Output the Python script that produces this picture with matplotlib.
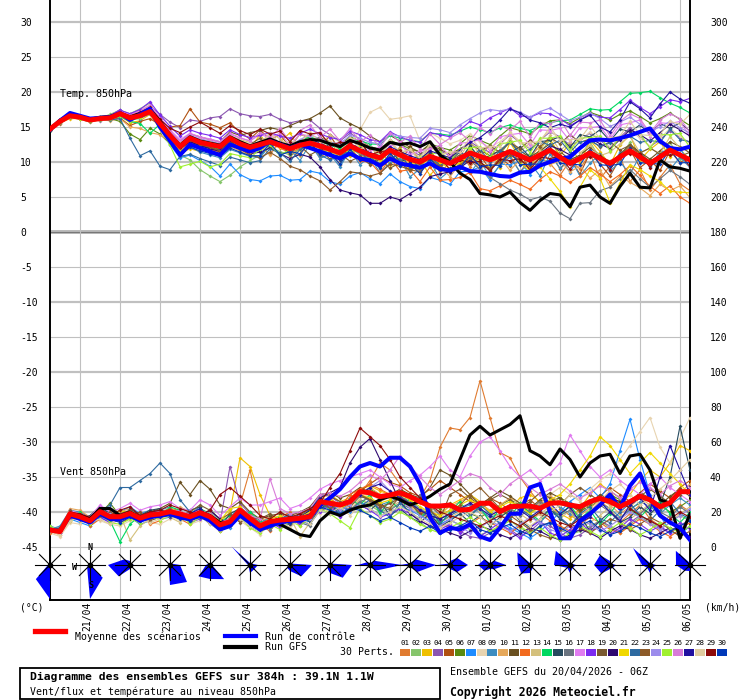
import numpy as np
import matplotlib
matplotlib.use("Agg")
import matplotlib.pyplot as plt
from matplotlib.lines import Line2D
from matplotlib.patches import Polygon, Rectangle

plt.rcParams["font.family"] = ["DejaVu Sans Mono"]

# --- time axis: 65 steps of 6h from 20/04/2026 06Z ---
hours = np.arange(65) * 6
date_labels = ["21/04", "22/04", "23/04", "24/04", "25/04", "26/04", "27/04", "28/04",
               "29/04", "30/04", "01/05", "02/05", "03/05", "04/05", "05/05", "06/05"]

# --- temperature 850hPa (degC) ---
temp_mean = [14.7,15.8,16.6,16.4,16.0,16.2,16.3,16.9,16.3,16.6,17.2, 15.5,13.8,12.2,13.4,12.8,12.5,12.2,13.4,12.6,12.1,
             12.5,12.9,12.4,11.9,12.4,12.7,12.3,11.8,11.3,12.3, 11.6,11.0,10.6,11.7,11.0,10.4,10.0,10.8,10.3,9.8,
             10.5,11.3,10.8,10.3,10.9,11.5,10.9,10.3,11.0,11.7, 10.7,9.8,10.5,11.3,10.5,9.8,10.7,11.6,10.7,9.8, 10.7,11.7,11.0,10.3]
temp_ctrl = [14.6,15.9,17.0,16.6,16.2,16.3,16.4,17.0,16.0,16.8,17.6, 15.0,13.0,11.0,12.5,12.0,11.5,11.0,12.5,12.0,11.5,
             12.0,13.0,12.5,12.0,12.5,12.0,11.5,11.0,10.5,11.2, 10.5,10.2,9.5,10.5,9.8,9.5,9.2,9.8,9.0,8.8,
             9.3,8.7,8.6,8.3,8.0,7.9,8.5,8.6,9.5,10.0, 10.5,10.7,12.0,13.1,13.2,13.1,13.4,13.8,14.3,14.8, 13.0,12.0,11.8,12.2]
temp_gfs = [14.7,16.0,16.8,16.5,16.1,16.4,16.5,17.0,16.4,16.9,17.5, 15.8,13.9,12.4,13.6,13.0,12.7,12.4,13.6,12.9,12.3,
            12.8,13.3,12.7,12.3,12.9,13.2,13.1,12.6,12.2,13.1, 12.6,12.0,11.7,12.8,12.5,12.7,12.2,12.9,11.0,10.0,
            8.4,7.5,5.5,5.3,5.0,5.7,4.2,3.1,4.5,5.5, 5.3,3.6,6.4,6.7,5.0,4.1,6.5,8.4,6.4,6.3, 10.3,9.3,9.1,8.7]

t01 = [14.6,15.7,16.5,16.5,16.1,16.0,16.4,17.1,16.6,17.2,17.9, 16.2,14.0,12.0,13.1,12.0,11.6,11.2,12.8,11.5,10.9, 12.4,11.1,13.0,10.8,11.9,12.9,10.7,11.5,9.6,12.2, 10.3,11.8,9.0,10.6,12.1,8.7,9.9,11.4,8.4,10.0, 11.5,9.3,10.8,12.4,9.6,11.0,8.5,10.7,12.3,9.8, 8.1,10.2,9.0,11.3,7.6,9.4,10.8,7.2,8.9,6.0, 7.8,9.6,6.9,5.9]
t02 = [14.8,16.0,16.9,16.3,15.8,16.3,16.8,17.4,16.9,17.6,18.4, 15.8,13.1,11.0,10.3,8.9,8.0,7.2,8.1,9.3,10.2, 11.0,12.1,11.5,11.0,11.9,12.5,12.0,11.1,10.8,12.1, 11.0,10.9,9.7,12.1,10.2,10.6,9.1,11.4,9.6,9.9, 10.1,12.3,10.6,10.7,11.0,13.1,10.9,11.1,11.2,13.2, 10.7,10.4,10.8,12.9,10.5,10.2,10.7,12.8,10.0,9.7, 10.3,12.8,10.5,10.3]
t03 = [14.5,15.6,16.2,16.2,15.9,16.4,16.1,16.6,15.6,15.9,16.8, 14.7,12.6,11.2,11.9,11.5,11.8,11.4,12.6,12.3,11.9, 13.9,12.1,12.8,14.2,11.7,12.5,13.6,11.2,12.9,10.8, 12.5,10.4,11.9,9.6,11.0,8.8,10.3,8.1,9.7,11.2, 9.4,12.0,10.1,11.6,9.2,12.8,10.5,9.1,12.0,13.3, 10.9,12.7,9.8,13.1,11.5,9.6,12.4,13.9,10.3,11.8, 12.9,10.7,11.9,10.2]
t04 = [14.7,15.9,16.7,16.6,16.2,15.9,16.6,17.5,16.2,17.0,18.0, 16.8,15.7,14.9,16.0,15.8,16.3,16.5,17.6,16.9,16.6, 16.5,16.8,16.1,15.6,15.9,16.0,14.8,13.9,13.0,14.1, 13.3,12.2,11.8,13.0,12.4,11.5,11.0,12.1,11.6,10.9, 11.8,12.9,12.0,11.4,12.6,13.9,12.8,11.9,13.1,14.3, 13.6,12.4,13.0,14.2,13.1,12.0,13.5,14.9,13.6,12.2, 13.2,14.4,13.5,12.8]
t05 = [14.6,15.5,16.4,16.1,15.7,16.1,16.0,16.3,15.2,15.8,16.2, 15.3,15.0,15.2,17.6,15.7,15.4,14.9,15.6,14.2,13.3, 14.6,13.2,13.9,12.1,14.0,13.4,12.0,13.8,11.6,12.7, 13.1,10.7,12.0,11.2,9.8,12.3,10.1,11.8,9.4,10.6, 11.7,9.8,11.0,8.9,10.6,9.5,11.4,8.7,10.1,11.5, 9.0,10.4,8.3,11.3,9.7,8.0,10.5,11.8,9.2,10.3, 8.8,11.6,9.9,10.8]
t06 = [14.7,15.7,16.5,16.3,15.9,16.2,16.2,15.8,14.0,13.2,14.8, 14.0,12.6,11.9,12.8,12.4,12.0,11.6,12.9,12.5,11.8, 12.2,13.0,12.6,12.1,12.8,13.2,13.5,12.9,12.4,13.6, 13.0,12.2,11.8,13.1,12.5,11.9,11.4,12.6,12.1,11.7, 12.6,13.8,13.1,12.5,13.7,14.9,14.5,14.0,15.1,15.9, 16.0,15.5,16.3,17.1,16.6,16.0,16.8,17.3,16.5,15.6, 16.2,17.0,16.1,15.2]
t07 = [14.6,15.8,16.6,16.4,16.0,16.2,16.3,16.8,16.0,16.4,17.0, 14.8,12.5,10.6,11.0,10.2,9.4,8.0,9.7,8.2,7.5, 7.3,8.0,8.1,7.4,7.5,8.7,8.4,7.2,6.8,8.0, 8.5,7.6,6.9,8.3,7.2,6.5,6.2,7.8,7.4,6.8, 8.6,8.7,9.3,7.4,9.7,9.6,10.1,8.2,10.2,10.2, 10.6,8.5,10.9,10.9,11.0,8.9,11.4,11.4,11.7,9.3, 11.5,11.6,11.9,9.8]
t08 = [14.8,15.9,16.7,16.5,16.1,16.5,16.4,17.2,16.8,17.4,18.2, 16.0,14.1,12.6,13.3,12.8,12.5,12.2,13.5,12.6,12.3, 13.1,13.6,12.7,12.3,13.1,13.8,12.9,12.2,11.4,12.5, 14.6,17.1,17.8,16.1,16.3,16.6,13.0,14.2,13.4,12.6, 13.1,14.0,12.8,12.1,12.9,14.1,13.0,12.0,13.2,14.5, 13.2,12.1,13.0,14.3,13.2,12.2,13.3,14.6,13.4,12.3, 13.4,14.8,13.7,12.6]
t09 = [14.5,15.6,16.4,16.3,15.9,16.1,16.2,16.7,16.1,16.2,16.9, 15.1,13.2,11.4,12.2,11.4,11.0,10.6,11.8,11.3,10.8, 10.6,12.4,10.9,11.8,10.2,12.6,10.5,11.1,9.3,11.7, 9.6,10.8,8.4,9.9,10.5,7.9,9.0,10.1,7.6,8.8, 9.7,8.4,10.3,7.8,9.5,10.7,8.6,9.9,8.0,11.1, 9.1,10.6,8.0,9.8,11.2,8.7,10.0,8.3,10.9,9.4, 10.4,8.9,10.7,9.2]
t10 = [14.6,15.6,16.3,16.2,15.8,16.0,15.9,16.2,15.0,14.8,14.2, 13.9,12.9,12.0,12.6,12.1,11.5,11.2,12.2,11.6,11.0, 12.2,11.0,12.9,11.6,10.9,13.1,11.3,12.4,10.2,11.9, 10.4,11.3,9.2,10.8,9.6,10.1,8.3,10.5,9.4,7.9, 9.8,10.9,8.9,9.9,10.6,8.8,10.3,9.2,10.9,9.6, 10.2,8.6,9.4,7.7,8.9,6.5,8.0,7.1,6.3,5.2, 6.8,5.9,6.6,4.9]
t11 = [14.7,15.8,16.5,16.4,16.0,16.3,16.5,17.0,16.5,16.8,17.5, 15.9,14.3,13.0,14.0,13.6,13.2,12.9,14.3,13.8,14.2, 14.5,14.9,14.6,15.2,15.8,16.2,17.0,18.0,16.3,15.5, 14.8,13.7,12.9,13.8,13.0,12.1,11.4,12.5,11.8,11.1, 11.9,12.6,11.7,10.9,11.7,12.8,11.6,10.7,11.6,12.6, 11.5,10.3,11.0,12.1,11.0,9.9,11.1,12.5,11.4,10.4, 11.6,12.9,12.2,11.3]
t12 = [14.6,15.9,16.8,16.5,16.1,16.2,16.4,17.0,16.4,16.9,17.6, 15.6,13.5,11.8,12.7,12.2,11.7,11.5,12.7,12.0,11.4, 11.9,12.6,12.0,11.3,12.0,12.6,11.9,11.2,10.4,11.5, 10.1,10.0,8.4,10.6,8.7,8.9,7.2,9.3,7.4,7.5, 7.8,8.5,6.2,5.9,6.6,7.4,6.8,6.1,7.5,8.6, 8.0,7.1,8.0,9.2,8.3,7.2,8.2,9.5,8.1,6.5, 5.5,6.6,5.0,4.1]
t13 = [14.8,15.9,16.6,16.4,16.1,16.3,16.5,17.1,16.7,17.0,17.7, 15.7,13.9,12.5,13.5,13.0,12.9,12.6,13.8,13.2,12.8, 12.6,14.2,13.3,12.0,14.1,13.2,12.5,13.9,12.8,11.6, 13.0,12.2,10.6,12.9,11.2,11.8,10.1,12.4,10.9,11.5, 10.8,12.9,11.1,12.3,11.2,13.4,11.5,12.7,11.6,13.8, 11.6,12.9,11.3,12.4,10.9,11.4,12.6,13.7,11.3,12.0, 11.2,13.6,12.0,11.8]
t14 = [14.7,15.8,16.6,16.3,15.9,16.1,16.2,16.5,15.8,15.5,14.1, 15.4,13.4,12.3,13.0,12.5,12.2,11.8,13.1,12.4,12.0, 12.6,13.3,12.7,12.3,13.0,13.6,13.0,12.4,11.9,13.0, 13.0,12.6,12.5,13.8,13.4,13.1,12.9,14.1,14.0,13.8, 14.4,15.0,14.6,14.2,14.9,15.3,14.8,14.5,15.1,15.6, 15.9,16.0,16.8,17.6,17.4,17.5,18.6,19.8,19.9,20.1, 19.2,18.4,17.8,17.0]
t15 = [14.6,15.7,16.6,16.5,16.0,16.1,16.3,16.9,16.2,16.5,17.1, 15.3,13.4,11.9,12.9,12.4,12.0,11.7,12.9,12.1,11.6, 11.6,13.3,12.5,11.2,12.7,12.2,11.5,12.6,10.3,12.3, 11.7,9.8,10.6,11.8,10.0,10.6,9.0,11.3,9.8,10.4, 10.2,12.3,10.4,10.9,11.6,11.3,12.2,10.7,12.9,13.1, 13.6,12.1,13.9,13.6,14.6,13.0,14.7,14.3,15.3,14.0, 15.5,14.8,15.6,14.4]
t16 = [14.7,15.8,16.7,16.4,16.0,16.2,16.3,16.8,16.2,16.6,17.3, 15.6,13.6,12.2,13.1,12.6,12.3,12.0,13.2,12.7,12.1, 12.5,13.2,12.5,11.9,12.6,13.1,12.4,11.8,11.0,12.0, 11.2,10.4,9.8,10.9,10.1,9.4,8.8,9.9,9.1,8.5, 9.5,10.3,8.9,7.8,6.9,6.0,5.4,4.6,5.0,4.4, 2.7,1.9,4.1,4.2,5.9,6.4,7.6,8.9,7.6,6.4, 7.6,8.8,7.9,6.8]
t17 = [14.8,16.0,16.8,16.6,16.2,16.4,16.6,17.3,16.8,17.3,18.1, 16.4,14.6,13.2,14.1,13.6,13.3,12.9,14.1,13.5,13.0, 13.9,13.5,14.1,12.4,14.0,13.7,14.3,12.2,12.8,13.0, 13.3,11.5,12.2,12.3,12.6,11.0,11.6,11.9,12.4,10.8, 12.7,12.8,13.2,11.6,13.6,13.9,14.1,12.4,14.6,14.5, 14.8,13.0,14.9,14.9,15.1,13.2,15.3,15.6,16.0,13.6, 15.6,15.5,15.8,13.6]
t18 = [14.7,15.9,16.8,16.6,16.2,16.3,16.6,17.4,16.9,17.5,18.6, 16.7,15.1,13.7,14.6,14.1,13.8,13.4,14.6,13.9,13.5, 13.8,14.2,13.7,13.4,14.1,14.7,14.0,13.5,13.2,14.4, 13.9,13.2,12.9,14.3,13.6,13.1,12.8,14.2,13.9,13.6, 14.6,15.8,15.3,16.3,17.0,17.7,16.6,16.4,17.0,16.9, 16.2,15.2,16.0,16.9,16.4,16.3,17.5,18.8,17.8,16.9, 17.9,18.9,18.6,19.1]
t19 = [14.6,15.7,16.5,16.3,15.9,16.1,16.2,16.7,16.1,16.4,17.0, 15.2,13.7,12.6,13.6,13.2,12.8,12.3,13.5,12.9,12.5, 13.4,12.1,12.9,11.7,12.3,11.0,11.8,10.4,11.2,10.1, 10.8,9.6,10.4,9.1,9.9,8.8,9.7,10.5,9.3,10.2, 11.0,10.1,11.6,12.3,11.4,12.8,11.9,13.1,12.2,13.5, 12.6,13.9,12.8,13.3,12.1,12.9,11.7,12.4,11.3,12.0, 11.1,11.9,10.8,11.4]
t20 = [14.7,15.8,16.6,16.5,16.1,16.2,16.3,16.8,16.3,16.7,17.4, 15.5,13.5,12.0,12.9,12.3,11.9,11.5,12.6,11.8,11.2, 11.4,12.0,11.2,10.5,11.1,10.7,9.3,7.5,6.0,5.6, 5.3,4.1,4.1,5.0,4.6,5.5,6.4,7.9,8.3,8.6, 9.2,10.2,9.6,9.0,10.1,11.2,10.6,10.0,11.2,12.3, 11.8,11.0,12.1,13.4,12.6,11.9,13.2,14.6,13.9,13.0, 14.2,15.4,14.6,13.7]
t21 = [14.6,15.8,16.6,16.3,15.9,16.2,16.3,16.9,16.4,16.8,17.5, 15.4,13.2,11.6,12.4,11.9,11.4,11.0,12.4,11.9,11.5, 12.1,12.9,12.2,11.6,12.4,13.0,12.3,11.5,10.9,12.0, 11.5,10.7,10.3,11.6,10.8,10.0,9.4,10.6,9.9,9.1, 9.9,10.8,9.9,9.2,10.0,11.1,9.9,8.7,9.3,7.6, 5.8,3.6,6.4,8.9,7.7,4.2,7.0,9.6,8.9,8.0, 7.2,5.8,5.7,5.6]
t22 = [14.7,15.7,16.4,16.3,15.9,16.1,16.0,16.2,13.4,10.9,11.6, 9.4,8.9,10.8,11.1,10.5,10.0,9.5,10.7,10.3,9.9, 10.2,11.9,11.3,10.1,11.8,12.5,11.0,10.3,10.9,11.6, 10.4,10.9,9.3,10.5,11.1,9.2,9.9,10.8,9.5,10.3, 11.4,10.6,11.8,10.0,11.6,12.9,11.2,11.8,12.9,12.4, 13.1,11.4,12.9,13.0,12.3,12.7,13.5,13.7,12.8,13.1, 12.8,14.7,13.2,12.9]
t23 = [14.6,15.8,16.7,16.4,16.0,16.2,16.4,17.0,16.4,16.8,17.4, 15.5,13.6,12.3,13.1,12.5,12.1,11.6,12.7,11.9,11.0, 10.6,11.4,10.5,9.4,8.9,8.0,7.3,6.0,7.2,8.6, 8.4,8.0,8.4,9.7,9.4,8.9,8.6,9.9,9.4,8.8, 9.6,10.6,9.9,9.1,10.0,11.0,10.2,9.4,10.5,11.6, 10.8,9.7,10.6,11.7,10.8,9.7,10.9,12.2,11.2,10.1, 11.0,12.1,11.2,10.2]
t24 = [14.8,15.9,16.7,16.5,16.2,16.4,16.5,17.2,16.6,17.1,17.8, 16.1,14.3,12.9,13.8,13.3,13.0,12.6,13.7,13.0,12.5, 12.9,13.4,12.8,12.4,13.2,13.9,13.3,12.8,12.6,13.8, 13.4,12.8,12.6,14.0,13.7,13.5,13.4,14.8,14.6,14.2, 15.3,16.2,17.0,17.5,17.3,17.6,17.1,16.4,17.2,17.7, 16.8,15.9,16.4,17.0,16.2,15.1,15.7,16.4,15.4,14.4, 15.0,15.8,14.9,14.1]
t25 = [14.6,15.7,16.4,16.2,15.8,16.0,16.1,16.6,15.9,16.3,17.0, 14.9,12.4,9.3,9.7,10.1,9.3,9.7,11.2,10.9,10.6, 11.8,12.4,11.0,11.8,12.3,12.1,12.5,11.0,11.5,11.5, 12.2,10.6,11.3,11.5,11.8,10.3,10.8,11.0,11.5,10.1, 11.9,12.0,12.2,10.7,12.6,12.8,13.1,11.3,13.4,13.4, 13.7,11.7,13.4,13.5,13.7,11.6,13.6,13.9,14.0,12.0, 13.9,13.9,14.1,12.1]
t26 = [14.7,15.9,16.8,16.5,16.1,16.3,16.5,17.2,16.7,17.2,18.0, 16.2,14.4,13.0,14.0,13.5,13.2,12.8,14.0,13.4,13.0, 14.2,13.6,14.8,12.9,14.5,15.3,13.5,14.7,13.0,14.8, 12.9,13.8,12.0,14.2,12.8,13.7,11.8,14.0,12.5,13.4, 14.2,13.0,14.9,14.0,15.2,14.6,15.8,13.6,15.6,15.5, 16.1,13.8,15.7,15.6,16.0,13.7,15.8,16.9,16.2,14.1, 16.0,16.9,16.2,14.2]
t27 = [14.6,15.8,16.6,16.4,16.0,16.2,16.3,16.9,16.3,16.7,17.3, 15.5,13.7,12.4,13.3,12.8,12.4,12.0,13.2,12.5,12.0, 12.5,13.1,12.4,11.9,12.7,13.3,12.7,12.0,11.5,12.6, 12.0,11.3,10.9,12.2,11.5,10.9,10.4,11.6,11.1,10.6, 11.7,12.8,13.5,14.6,16.0,17.6,17.0,16.0,15.6,14.9, 15.4,15.0,16.0,16.7,15.0,14.3,16.0,18.6,17.6,16.3, 18.3,20.0,19.0,18.4]
t28 = [14.7,15.9,16.6,16.5,16.1,16.3,16.4,17.0,16.5,16.9,17.6, 15.8,13.9,12.7,13.6,13.1,12.8,12.5,13.7,13.1,12.6, 12.5,14.1,12.6,13.0,12.7,14.3,12.8,13.0,11.4,13.5, 11.9,12.2,11.0,13.1,11.4,11.8,10.6,12.6,11.0,11.5, 11.4,13.5,12.0,12.2,12.2,14.3,12.7,12.8,12.9,15.0, 13.1,13.2,13.3,15.2,13.3,13.4,13.7,15.8,13.9,13.8, 13.9,15.8,15.4,16.8]
t29 = [14.8,15.9,16.7,16.4,16.1,16.3,16.5,17.1,16.6,17.1,17.8, 16.1,14.8,14.2,15.0,15.7,14.9,14.1,15.2,14.5,13.9, 14.7,14.0,14.4,12.9,14.5,14.0,14.2,12.4,12.8,12.7, 13.0,11.0,11.5,11.6,11.7,10.0,10.4,10.4,10.7,8.9, 10.3,9.9,10.1,8.7,10.4,10.2,10.5,8.9,10.7,10.5, 10.8,9.0,10.7,10.7,10.8,8.9,11.0,11.2,11.2,9.2, 11.0,11.0,11.2,9.3]
t30 = [14.6,15.9,16.9,16.6,16.2,16.2,16.4,17.0,16.3,16.8,17.5, 15.3,13.1,11.2,12.1,11.6,11.2,10.8,12.0,11.4,10.9, 10.9,12.7,11.0,11.5,11.2,12.8,11.1,11.3,9.7,11.8, 10.3,10.5,9.1,11.3,9.5,9.8,8.3,10.5,8.8,9.1, 9.1,11.1,9.3,9.6,9.5,11.5,9.6,9.7,9.7,11.8, 9.8,9.7,9.6,11.7,9.6,9.5,9.7,12.0,9.9,9.8, 9.7,11.8,9.9,9.9]

# --- wind 850hPa (km/h) ---
wind_mean = [9.7,8.8,18.9,17.3,15.0,20.2,17.3,17.3,19.2,16.5,18.3, 18.9,20.2,18.9,17.3,19.6,17.3,12.6,14.5,21.1,16.4,
             12.0,14.5,15.4,15.8,16.5,17.3,25.9,25.0,24.0,25.9, 31.6,31.0,28.8,29.7,31.0,28.8,25.9,23.4,23.4,24.0,
             21.1,21.5,25.0,25.0,20.2,23.0,23.4,23.4,22.1,25.0, 25.3,24.0,23.0,25.9,27.8,25.9,23.0,25.9,29.1,26.9, 23.0,25.3,31.6,31.6]
wind_ctrl = [10,9,18,16,14,19,16,16,18,15,17, 18,19,17,16,18,15,10,12,18,14, 10,12,14,15,15,17,24,28,33,40,
             46,48,46,51,51,46,36,17,8,11, 10,13,6,4,11,19,19,34,36,20, 5,5,15,19,24,30,22,35,42,28, 18,14,11,4]
wind_gfs = [10,9,19,18,16,22,22,18,20,17,18, 19,20,19,17,20,18,14,13,19,14, 11,14,13,10,7,6,15,20,18,21,
            23,24,27,29,27,24,26,29,33,36, 50,64,69,64,67,70,75,55,52,47, 56,50,40,48,52,53,42,52,53,44, 27,25,5,19]

w01 = [9,7,20,18,14,22,19,16,21,17,19, 20,22,21,15,19,16,10,13,24,44, 18,12,15,17,16,19,27,24,21,26, 30,38,48,44,36,22,28,38,57,68, 67,74,95,74,54,51,40,32,25,30, 22,18,15,20,26,22,14,19,24,16, 12,18,24,20]
w02 = [11,9,17,16,13,19,16,15,18,14,17, 17,19,17,15,18,15,11,12,19,14, 10,12,13,14,16,15,22,23,21,24, 27,24,20,22,25,20,14,10,12,15, 13,10,7,9,12,15,11,8,12,14, 10,7,9,12,15,11,8,13,17,14, 10,14,18,15]
w03 = [10,9,18,17,15,20,18,18,20,17,19, 19,21,19,18,21,18,14,20,51,46, 30,18,16,15,17,18,28,30,26,28, 33,35,32,30,28,25,22,20,18,24, 27,30,26,20,17,22,28,30,26,23, 19,16,22,30,36,32,24,30,38,44, 40,48,58,55]
w04 = [10,8,19,18,15,21,17,18,20,16,18, 19,20,19,18,21,19,14,46,25,19, 14,16,15,17,18,20,30,29,25,27, 30,26,22,25,28,24,20,17,14,12, 9,6,5,8,12,10,6,9,14,12, 8,5,7,11,15,12,9,14,18,15, 11,8,12,16]
w05 = [9,10,21,19,16,21,18,17,19,17,18, 18,20,18,16,19,17,12,15,20,16, 12,15,16,15,17,19,26,25,24,26, 32,36,40,37,35,31,29,33,38,34, 30,26,24,28,25,21,24,27,22,26, 28,24,20,24,29,34,30,26,31,36, 32,28,34,38]
w06 = [10,9,18,16,14,19,25,18,18,15,17, 18,19,18,17,19,16,10,12,18,13, 10,13,14,15,16,18,25,27,24,26, 30,33,30,28,31,29,26,23,22,25, 22,19,17,20,24,27,24,20,23,26, 28,25,21,23,27,30,27,22,25,28, 24,20,23,27]
w07 = [12,10,16,14,12,17,14,20,23,19,21, 16,17,22,20,17,21,15,11,17,12, 9,11,16,18,13,15,21,19,24,20, 26,22,18,20,23,21,18,15,13,16, 19,22,20,17,14,11,8,5,9,14, 20,26,30,34,28,36,55,73,50,30, 18,9,7,12]
w08 = [8,6,14,13,18,15,13,12,15,19,14, 13,16,22,13,15,19,14,16,15,11, 7,14,17,12,18,20,19,27,25,22, 28,30,27,25,28,26,22,19,17,20, 23,25,22,18,21,24,27,23,26,30, 34,30,27,33,38,42,50,58,66,74, 57,48,62,74]
w09 = [10,12,21,20,17,23,20,15,17,13,15, 21,23,16,19,23,15,9,17,23,18, 14,17,12,13,20,21,29,22,20,28, 29,27,24,26,29,26,22,18,16,19, 22,24,21,17,19,22,25,21,24,27, 23,19,16,20,25,22,17,21,26,23, 19,24,28,24]
w10 = [10,9,22,21,17,18,15,20,22,18,21, 16,18,23,20,17,20,14,16,19,13, 15,17,13,18,20,16,28,27,22,24, 31,34,30,28,32,29,25,22,20,23, 26,29,25,21,24,28,25,21,25,29, 26,22,18,22,27,24,19,23,28,24, 20,26,31,36]
w11 = [10,9,20,18,16,21,18,19,20,18,20, 22,25,37,30,38,33,24,22,26,20, 16,18,19,18,20,23,30,31,28,30, 34,31,28,30,33,30,28,34,44,41, 36,30,24,28,32,29,25,22,27,31, 28,24,21,25,30,27,22,26,31,28, 24,29,33,29]
w12 = [8,11,15,19,12,16,21,14,16,20,13, 15,22,16,13,21,14,9,17,15,19, 13,9,17,20,12,19,22,28,23,30, 33,36,33,30,28,24,20,16,13,11, 9,13,17,14,11,8,12,16,19,15, 12,9,13,17,14,10,8,12,16,13, 9,6,10,14]
w13 = [11,8,20,15,17,22,13,19,4,12,16, 20,17,14,19,16,22,15,12,18,17, 12,15,11,17,6,14,23,20,26,21, 27,25,21,23,26,23,19,16,14,17, 20,23,20,16,19,22,19,15,19,23, 16,21,11,14,18,23,13,16,20,25, 18,14,19,23]
w14 = [9,10,17,20,13,18,15,3,13,18,20, 17,23,21,15,22,19,14,18,16,20, 15,11,18,13,17,21,26,21,19,27, 24,30,19,27,21,28,17,22,13,20, 26,18,23,14,22,17,25,19,15,21, 18,24,16,21,13,19,27,22,17,23, 26,19,14,20]
w15 = [10,11,20,16,18,23,19,14,22,18,21, 22,18,16,21,23,15,11,19,22,16, 13,16,12,15,19,14,22,25,18,21, 24,21,26,18,22,17,14,19,12,15, 19,14,18,12,17,21,15,11,16,22, 16,12,18,9,15,20,14,17,23,19, 24,40,69,44]
w16 = [9,8,18,19,14,21,16,18,17,14,19, 20,18,21,16,18,13,10,15,21,18, 14,10,15,19,14,12,27,22,24,21, 26,28,23,21,25,22,30,24,18,21, 23,19,22,25,19,22,18,21,26,22, 18,21,15,19,24,20,16,22,19,24, 20,17,23,19]
w17 = [11,9,21,19,17,24,20,22,25,21,23, 24,26,22,21,27,24,18,23,28,24, 24,26,28,22,24,28,33,36,38,40, 42,44,40,36,34,38,41,46,52,44, 40,52,60,63,55,46,40,44,38,42, 48,64,55,46,40,44,38,34,30,36, 40,34,30,26]
w18 = [10,8,16,18,16,17,14,15,20,17,16, 19,17,20,14,16,18,13,15,21,12, 9,14,11,16,13,18,20,24,17,21, 24,21,17,19,22,19,15,12,10,13, 8,12,6,10,14,9,5,11,15,8, 6,10,14,9,12,7,11,16,13,9, 12,8,14,10]
w19 = [10,10,21,16,13,18,20,16,18,20,15, 17,21,18,20,24,21,16,19,14,17, 16,19,15,13,18,22,24,29,26,23, 29,27,23,25,28,25,21,18,16,30, 33,28,24,27,30,27,22,26,31,28, 24,30,34,30,26,32,28,24,29,33, 29,25,30,34]
w20 = [10,9,20,17,16,22,18,15,18,17,20, 21,17,20,15,18,21,16,13,17,14, 12,15,16,13,17,21,28,31,34,48, 57,62,50,38,26,19,15,12,10,8, 6,9,12,10,7,5,8,11,9,6, 4,7,10,8,5,9,12,10,7,5, 8,11,9,6]
w21 = [11,9,19,19,16,20,18,21,19,17,17, 18,22,19,17,20,18,15,22,23,17, 13,16,18,14,17,20,24,27,22,25, 30,28,25,27,30,27,23,20,18,21, 24,27,24,20,23,26,23,19,23,27, 30,36,44,52,63,58,50,42,48,54, 48,42,36,30]
w22 = [10,9,19,18,16,20,24,34,34,38,42, 48,42,27,20,18,16,12,14,18,15, 12,14,16,19,15,13,21,25,20,22, 23,27,21,17,25,20,16,21,14,18, 21,17,24,19,13,16,22,18,14,20, 17,12,19,23,16,14,20,25,18,15, 21,26,19,16]
w23 = [10,10,17,17,14,19,16,19,21,15,16, 18,22,17,19,21,14,11,16,20,17, 13,12,14,17,15,19,26,22,25,27, 30,27,24,22,29,25,19,21,16,19, 24,30,34,28,22,18,14,10,7,5, 9,13,11,8,12,16,14,10,13,17, 14,10,6,9]
w24 = [9,9,20,18,15,21,19,16,20,15,19, 20,19,21,16,21,18,13,12,21,16, 12,13,15,16,18,16,23,26,21,24, 30,34,38,32,28,22,18,14,12,16, 12,8,11,15,12,9,13,17,14,10, 8,12,16,13,9,12,16,20,17,13, 10,14,18,22]
w25 = [12,9,15,17,13,20,14,13,16,14,19, 15,18,20,13,17,14,9,12,17,11, 8,13,10,15,12,17,22,19,15,11, 22,18,14,16,20,17,13,10,8,11, 14,17,13,9,12,15,12,8,11,7, 4,8,12,9,6,10,14,11,7,10, 14,11,8,12]
w26 = [10,9,19,17,16,21,18,18,20,17,19, 20,21,20,19,21,19,14,16,22,18, 16,39,22,19,20,22,30,31,29,32, 37,41,38,44,52,46,40,34,30,34, 38,42,40,34,30,36,40,34,30,33, 36,32,28,31,35,32,28,33,37,34, 30,35,38,34]
w27 = [10,9,18,18,16,19,17,16,18,17,20, 18,21,17,19,22,16,13,15,18,16, 11,14,13,16,15,18,23,26,24,26, 30,34,36,32,28,25,21,18,16,19, 22,25,22,18,21,24,21,17,21,25, 19,23,14,17,26,20,15,24,28,21, 40,58,44,30]
w28 = [9,7,15,17,14,16,13,17,19,16,14, 16,18,15,17,19,13,10,14,16,12, 9,13,15,11,16,13,21,19,23,18, 24,22,18,20,23,20,16,13,11,14, 17,20,17,13,16,19,16,12,16,20, 24,30,26,20,26,32,36,30,24,28, 33,38,44,50]
w29 = [10,9,20,19,17,22,18,21,23,18,20, 21,24,22,20,18,21,30,34,29,24, 18,16,20,17,19,22,25,34,42,55, 68,63,58,50,40,34,28,24,20,18, 16,14,12,15,18,15,12,16,20,17, 14,12,16,20,24,28,26,22,18,15, 12,16,20,17]
w30 = [10,9,18,16,15,19,16,14,17,15,17, 17,18,16,15,17,15,11,14,18,13, 10,12,15,14,17,19,23,21,19,22, 21,18,15,17,14,11,9,12,8,10, 12,15,10,8,11,13,9,7,12,14, 11,8,12,15,10,7,9,13,11,8, 6,9,12,15]

pert_colors = ["#e07b30", "#86c56b", "#efc000", "#8b56b0", "#b05010", "#5a8a10", "#1e8cff", "#e8d4b0",
               "#3c8cc0", "#e6a85a", "#6a5020", "#f26a1e", "#d4c07c", "#00d860", "#264a5e", "#6a7480",
               "#e07cf0", "#7b2af0", "#7a5a30", "#2e0870", "#f0d800", "#2e6aa0", "#8c5a28", "#9c8cec",
               "#a0f030", "#d87cd8", "#2010a0", "#e0cca0", "#8c0a0a", "#0038b8"]

# --- wind roses: member counts per direction, one rose per day ---
rose_hours = [0, 24, 48, 72, 96, 120, 144, 168, 192, 216, 240, 264, 288, 312, 336, 360, 384]
rose_N  = [0, 0, 2, 0, 1, 1, 1, 1, 1, 1, 2, 1, 1, 1, 2, 1, 1]
rose_NE = [0, 0, 1, 1, 1, 1, 1, 1, 3, 4, 5, 3, 1, 1, 1, 1, 1]
rose_E  = [0, 0, 2, 5, 1, 4, 11, 11, 16, 13, 9, 8, 2, 3, 3, 3, 0]
rose_SE = [0, 9, 1, 12, 10, 3, 8, 9, 4, 5, 5, 3, 2, 2, 2, 2, 1]
rose_S  = [17, 17, 2, 10, 7, 4, 3, 4, 1, 1, 2, 2, 4, 4, 2, 4, 3]
rose_SW = [10, 2, 8, 1, 8, 1, 2, 2, 1, 1, 1, 4, 6, 2, 6, 2, 4]
rose_W  = [1, 1, 11, 0, 2, 1, 1, 1, 6, 5, 6, 6, 6, 8, 8, 4, 7]
rose_NW = [0, 1, 4, 0, 1, 13, 1, 1, 2, 1, 1, 4, 9, 10, 7, 12, 10]

temp_perts = [t01, t02, t03, t04, t05, t06, t07, t08, t09, t10, t11, t12, t13, t14, t15,
              t16, t17, t18, t19, t20, t21, t22, t23, t24, t25, t26, t27, t28, t29, t30]
wind_perts = [w01, w02, w03, w04, w05, w06, w07, w08, w09, w10, w11, w12, w13, w14, w15,
              w16, w17, w18, w19, w20, w21, w22, w23, w24, w25, w26, w27, w28, w29, w30]

# ---------------------------------------------------------------
W, H = 740.0, 700.0


def fx(x):
    return x / W


def fy(y):
    return 1 - y / H


fig = plt.figure(figsize=(7.4, 7.0), dpi=100)
ax = fig.add_axes([fx(50), fy(600), 640 / W, 600 / H])
ax.set_xlim(0, 384)
ax.set_ylim((232 - 600) / 7, 232 / 7)
HPX = 384 / 640.0   # hours per pixel
TPX = 1 / 7.0       # degC per pixel

# grid
for t in range(-45, 31, 5):
    if t == 0:
        ax.axhline(0, color="#b8b8b8", lw=2.8, zorder=0)
        ax.axhline(0, color="#787878", lw=0.8, zorder=0)
    else:
        ax.axhline(t, color="#c0c0c0", lw=1.6 if t % 10 == 0 else 0.8, zorder=0)
for d in range(16):
    ax.axvline(18 + 24 * d, color="#c0c0c0", lw=0.8, zorder=0)

ax.spines["top"].set_visible(False)
for s in ("left", "right", "bottom"):
    ax.spines[s].set_color("black")
    ax.spines[s].set_linewidth(1.4)

ax.set_yticks(range(-45, 31, 5))
ax.set_yticklabels([str(v) for v in range(-45, 31, 5)])
ax.tick_params(axis="y", length=0, pad=21.6, labelsize=7)
plt.setp(ax.get_yticklabels(), ha="left")
ax.set_xticks([18 + 24 * d + 4.2 for d in range(16)])
ax.set_xticklabels(date_labels, rotation=90)
ax.tick_params(axis="x", length=0, pad=1.5, labelsize=7)

ax2 = ax.twinx()
lo, hi = ax.get_ylim()
ax2.set_ylim((lo + 45) * 4, (hi + 45) * 4)
ax2.set_yticks(range(0, 301, 20))
ax2.tick_params(axis="y", length=0, pad=14.4, labelsize=7)
for s in ax2.spines.values():
    s.set_visible(False)

# ensemble members
for c, t, w in zip(pert_colors, temp_perts, wind_perts):
    ax.plot(hours[:len(t)], t, color=c, lw=0.8, marker="D", ms=2, mew=0, zorder=2)
    ax2.plot(hours[:len(w)], w, color=c, lw=0.8, marker="D", ms=2, mew=0, zorder=2)

ax.plot(hours, temp_gfs, color="black", lw=2.2, zorder=3)
ax.plot(hours, temp_ctrl, color="#0000ff", lw=2.9, zorder=4)
ax.plot(hours, temp_mean, color="#ff0000", lw=3.6, zorder=5)
ax2.plot(hours, wind_gfs, color="black", lw=2.2, zorder=3)
ax2.plot(hours, wind_ctrl, color="#0000ff", lw=2.9, zorder=4)
ax2.plot(hours, wind_mean, color="#ff0000", lw=3.6, zorder=5)

# wind roses
angles = np.deg2rad(np.arange(0, 360, 45))
rose_counts = np.array([rose_N, rose_NE, rose_E, rose_SE, rose_S, rose_SW, rose_W, rose_NW]).T
cy = (232 - 565) / 7
for cx, counts in zip(rose_hours, rose_counts):
    r = counts * 2.0
    xs = cx + r * np.sin(angles) * HPX
    ys = cy + r * np.cos(angles) * TPX
    ax.add_patch(Polygon(np.column_stack([xs, ys]), closed=True, fc="#0000ff", ec="none",
                         clip_on=False, zorder=3))
    for a in angles:
        ax.plot([cx, cx + 15 * np.sin(a) * HPX], [cy, cy + 15 * np.cos(a) * TPX],
                color="black", lw=0.8, clip_on=False, zorder=4)
    ax.plot(cx, cy, "o", color="black", ms=3, clip_on=False, zorder=5)

# compass letters
fig.text(fx(90.5), fy(547), "N", ha="center", va="center", fontsize=6, fontweight="bold")
fig.text(fx(75), fy(567), "W", ha="center", va="center", fontsize=6, fontweight="bold")
fig.text(fx(90.5), fy(586), "S", ha="center", va="center", fontsize=6, fontweight="bold")

# panel labels
fig.text(fx(60), fy(94), "Temp. 850hPa", ha="left", va="center", fontsize=7.2)
fig.text(fx(60), fy(472), "Vent 850hPa", ha="left", va="center", fontsize=7.2)
fig.text(fx(20), fy(607), "(°C)", ha="left", va="center", fontsize=7)
fig.text(fx(705), fy(607), "(km/h)", ha="left", va="center", fontsize=7)

# legend
fig.add_artist(Line2D([fx(35), fx(65)], [fy(631), fy(631)], color="#ff0000", lw=3.8))
fig.text(fx(75), fy(637), "Moyenne des scénarios", ha="left", va="center", fontsize=7.1)
fig.add_artist(Line2D([fx(225), fx(256)], [fy(636), fy(636)], color="#0000ff", lw=3.0))
fig.text(fx(265), fy(637), "Run de contrôle", ha="left", va="center", fontsize=7.1)
fig.add_artist(Line2D([fx(225), fx(256)], [fy(647), fy(647)], color="black", lw=3.0))
fig.text(fx(265), fy(647), "Run GFS", ha="left", va="center", fontsize=7.1)
fig.text(fx(340), fy(652), "30 Perts.", ha="left", va="center", fontsize=7.1)
for i, c in enumerate(pert_colors):
    x0 = 400 + 10.93 * i
    fig.add_artist(Rectangle((fx(x0), fy(656)), 10 / W, 7 / H, color=c, lw=0))
    fig.text(fx(x0 + 5), fy(643), "%02d" % (i + 1), ha="center", va="center", fontsize=5.4)

fig.add_artist(Rectangle((fx(20), fy(699)), 420 / W, 31 / H, fill=False, ec="black", lw=1.3))
fig.text(fx(30), fy(677), "Diagramme des ensembles GEFS sur 384h : 39.1N 1.1W",
         ha="left", va="center", fontsize=8.2, fontweight="bold")
fig.text(fx(30), fy(692), "Vent/flux et température au niveau 850hPa",
         ha="left", va="center", fontsize=7.1)
fig.text(fx(450), fy(672), "Ensemble GEFS du 20/04/2026 - 06Z", ha="left", va="center", fontsize=7.2)
fig.text(fx(450), fy(692), "Copyright 2026 Meteociel.fr", ha="left", va="center",
         fontsize=8.3, fontweight="bold")

fig.savefig("out.png", dpi=100)
